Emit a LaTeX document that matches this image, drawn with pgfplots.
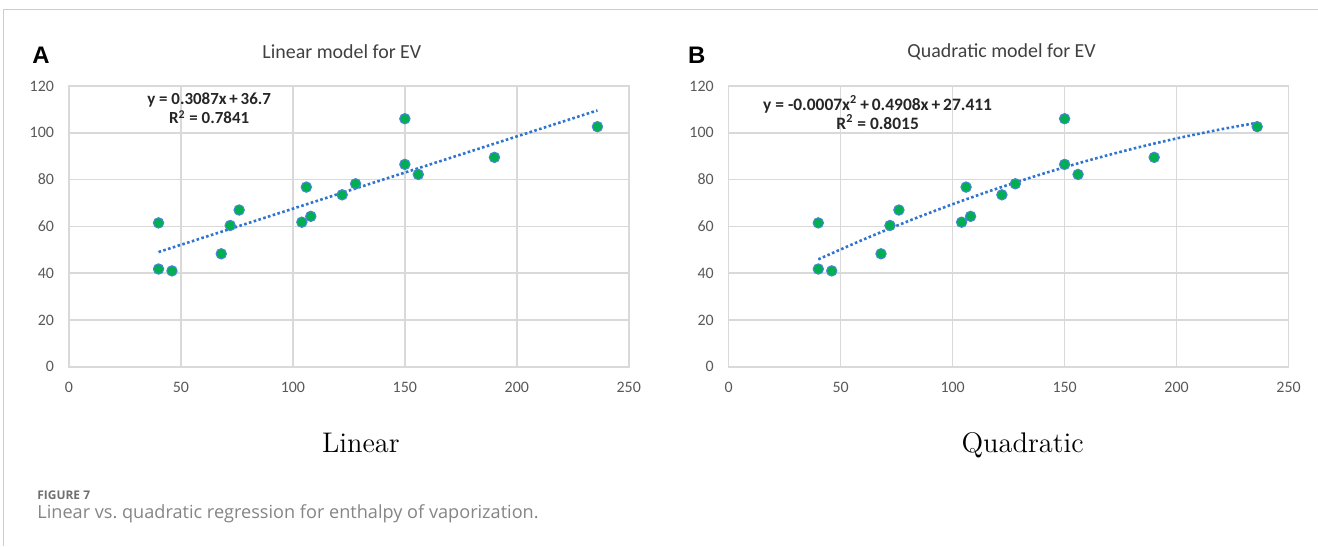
\documentclass[border=0pt]{standalone}
\usepackage{fontspec}
\usepackage{pgfplots}
\pgfplotsset{compat=1.18}
\newfontfamily\carlito{Carlito}
\newfontfamily\arialf{Liberation Sans}
\newfontfamily\capfont{Open Sans}
\definecolor{ptgreen}{HTML}{00B050}
\definecolor{ptedge}{HTML}{4A86D8}
\definecolor{trend}{HTML}{2E75CF}
\definecolor{gridc}{HTML}{D9D9D9}
\definecolor{tickc}{HTML}{595959}
\definecolor{titlec}{HTML}{404040}
\definecolor{capc}{HTML}{707070}
\definecolor{borderc}{HTML}{CCCCCC}
\pgfplotsset{
  evstyle/.style={
    anchor=south west, scale only axis,
    width=280bp, height=140.5bp,
    xmin=0, xmax=250, ymin=0, ymax=120,
    xtick={0,50,...,250}, ytick={0,20,...,120},
    grid=major, grid style={draw=gridc, line width=0.75bp},
    axis line style={draw=gridc, line width=0.75bp},
    major tick length=0pt, tick style={draw=none},
    ticklabel style={font=\carlito\fontsize{8}{9}\selectfont, text=tickc},
    /pgf/number format/assume math mode=true,
    xticklabel style={yshift=-4bp},
    yticklabel style={xshift=-4bp},
    clip=false,
  },
  pts/.style={only marks, mark=*, mark size=2.6bp,
    mark options={fill=ptgreen, draw=ptedge, line width=0.5bp}},
  tl/.style={no marks, draw=trend, line width=1.3bp, dash pattern=on 1.3bp off 1.2bp},
}
\begin{document}
\frenchspacing
\begin{tikzpicture}[x=0.5bp, y=-0.5bp]
\fill[white] (0,0) rectangle (1318,546);
\draw[borderc, line width=0.5bp] (4,546) -- (4,10) -- (1318,10);
\coordinate (pa) at (69,367);
\coordinate (pb) at (729,367);
% Panel A
\node[font=\arialf\bfseries\fontsize{12}{14}\selectfont] at (41,55) {A};
\node[font=\carlito\fontsize{10}{12}\selectfont, text=titlec] at (342,52) {Linear model for EV};
\begin{axis}[evstyle, at={(pa)}]
\addplot[tl] coordinates {(40,49.05) (236,109.55)};
\addplot[pts] coordinates {
(40,61.5) (40,41.8) (46,41.0) (68,48.3) (72,60.4) (76,67.0) (104,61.8) (106,76.8)
(108,64.3) (122,73.5) (128,78.2) (150,106.0) (150,86.5) (156,82.2) (190,89.5) (236,102.6)};
\node[font=\carlito\bfseries\fontsize{8.5}{9.5}\selectfont, text=black!85, align=center] at (axis cs:62.6,110.4) {y = 0.3087x\,+\,36.7\\R\textsuperscript{2} = 0.7841};
\end{axis}
\node[font=\fontsize{14.25}{17}\selectfont, anchor=base] at (361,453) {Linear};
% Panel B
\node[font=\arialf\bfseries\fontsize{12}{14}\selectfont] at (697,55) {B};
\node[font=\carlito\fontsize{10}{12}\selectfont, text=titlec] at (1002,52) {Quadratic model for EV};
\begin{axis}[evstyle, at={(pb)}]
\addplot[tl, smooth] coordinates {(40,45.92) (60,54.34) (80,62.20) (100,69.49) (120,76.23) (140,82.40) (160,88.02) (180,93.08) (200,97.57) (220,101.51) (236,104.25)};
\addplot[pts] coordinates {
(40,61.5) (40,41.8) (46,41.0) (68,48.3) (72,60.4) (76,67.0) (104,61.8) (106,76.8)
(108,64.3) (122,73.5) (128,78.2) (150,106.0) (150,86.5) (156,82.2) (190,89.5) (236,102.6)};
\node[font=\carlito\bfseries\fontsize{8.75}{9.5}\selectfont, text=black!85, align=center] at (axis cs:66.5,108.6) {y = -0.0007x\textsuperscript{2}\,+\,0.4908x\,+\,27.411\\R\textsuperscript{2} = 0.8015};
\end{axis}
\node[font=\fontsize{14.25}{17}\selectfont, anchor=base] at (1023,453) {Quadratic};
% Caption
\node[font=\capfont\bfseries\fontsize{6}{7}\selectfont, text=capc, anchor=base west, inner sep=0] at (37,500) {FIGURE 7};
\node[font=\capfont\fontsize{9.1}{10}\selectfont, text=capc!85, anchor=base west, inner sep=0] at (37,519) {Linear vs. quadratic regression for enthalpy of vaporization.};
\end{tikzpicture}
\end{document}
